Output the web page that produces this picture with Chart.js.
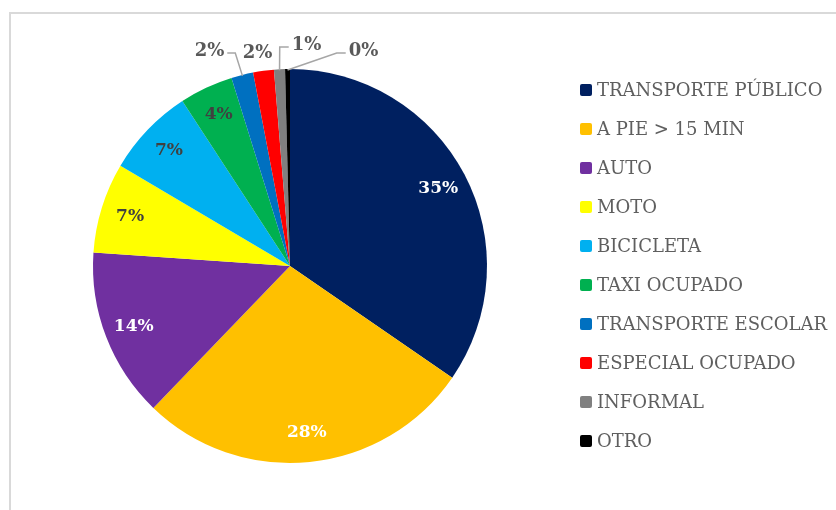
<!DOCTYPE html>
<html>
<head>
<meta charset="utf-8">
<script src="https://cdn.jsdelivr.net/npm/chart.js@4"></script>
<style>
  html, body { margin: 0; padding: 0; background: #fff; overflow: hidden; }
  #wrap { position: relative; width: 836px; height: 510px; }
  #frame { position: absolute; left: 9px; top: 12px; width: 900px; height: 600px;
           border: 2px solid #d9d9d9; box-sizing: border-box; }
  canvas { position: absolute; left: 0; top: 0; }
</style>
</head>
<body>
<div id="wrap">
  <div id="frame"></div>
  <canvas id="pie" width="836" height="510"></canvas>
</div>
<script>
/* ===== Modo de transporte ===== */

const categories = [
  'TRANSPORTE PÚBLICO', 'A PIE > 15 MIN', 'AUTO', 'MOTO', 'BICICLETA',
  'TAXI OCUPADO', 'TRANSPORTE ESCOLAR', 'ESPECIAL OCUPADO', 'INFORMAL', 'OTRO'
];
const shares = [34.6, 27.6, 13.9, 7.4, 7.3, 4.4, 1.8, 1.7, 0.9, 0.4];
const sliceColors = [
  '#002060', '#FFC000', '#7030A0', '#FFFF00', '#00B0F0',
  '#00B050', '#0070C0', '#FF0000', '#808080', '#000000'
];
// colour of the % text on each slice
const labelColors = [
  '#ffffff', '#ffffff', '#ffffff', '#404040', '#404040',
  '#404040', '#595959', '#595959', '#595959', '#595959'
];

const FONT = '"DejaVu Serif", "Liberation Serif", serif';

// small slices get their label outside, nudged sideways (dx from rim point, dy from pie top)
const outside = { 6: [-33, -18], 7: [-6, -16], 8: [27, -24], 9: [76, -18] };

const pctLabels = {
  id: 'pctLabels',
  afterDatasetsDraw(chart) {
    const ctx = chart.ctx;
    const meta = chart.getDatasetMeta(0);
    const total = shares.reduce((a, b) => a + b, 0);
    ctx.save();
    ctx.textAlign = 'center';
    ctx.textBaseline = 'middle';
    meta.data.forEach((arc, i) => {
      const { x, y, startAngle, endAngle, outerRadius } = arc.getProps(
        ['x', 'y', 'startAngle', 'endAngle', 'outerRadius'], true);
      const mid = (startAngle + endAngle) / 2;
      const txt = Math.round(shares[i] / total * 100) + '%';
      if (outside[i]) {
        ctx.font = 'bold 18px ' + FONT;
        const ax = x + Math.cos(mid) * (outerRadius - 1);
        const ay = y + Math.sin(mid) * (outerRadius - 1);
        const lx = ax + outside[i][0];
        const ly = y - outerRadius + outside[i][1];
        const w = ctx.measureText(txt).width;
        ctx.fillStyle = labelColors[i];
        ctx.fillText(txt, lx, ly);
        if (Math.abs(lx - ax) > w / 2 + 2) {
          const ex = lx > ax ? lx - w / 2 - 3 : lx + w / 2 + 3;
          const kx = lx > ax ? ex - 9 : ex + 8;
          ctx.strokeStyle = '#a6a6a6';
          ctx.lineWidth = 1.5;
          ctx.beginPath();
          ctx.moveTo(ex, ly + 2);
          ctx.lineTo(kx, ly + 2);
          ctx.lineTo(ax, ay);
          ctx.stroke();
        }
      } else {
        ctx.font = 'bold 17px ' + FONT;
        const r = outerRadius * 0.85;
        ctx.fillStyle = labelColors[i];
        ctx.fillText(txt, x + Math.cos(mid) * r, y + Math.sin(mid) * r);
      }
    });
    ctx.restore();
  }
};

const sideLegend = {
  id: 'sideLegend',
  afterDraw(chart) {
    const ctx = chart.ctx;
    ctx.save();
    ctx.font = '18px ' + FONT;
    ctx.textBaseline = 'middle';
    categories.forEach((name, i) => {
      const cy = 90 + i * 39;
      ctx.fillStyle = sliceColors[i];
      ctx.beginPath();
      ctx.roundRect(580, cy - 6, 12, 12, 2);
      ctx.fill();
      ctx.fillStyle = '#5f5f5f';
      ctx.fillText(name, 597, cy + 1);
    });
    ctx.restore();
  }
};

new Chart(document.getElementById('pie').getContext('2d'), {
  type: 'pie',
  data: {
    labels: categories,
    datasets: [{
      data: shares,
      backgroundColor: sliceColors,
      borderWidth: 0
    }]
  },
  options: {
    responsive: false,
    animation: false,
    layout: { padding: { left: 0, right: 256, top: 69, bottom: 47 } },
    plugins: {
      legend: { display: false },
      tooltip: { enabled: false }
    }
  },
  plugins: [pctLabels, sideLegend]
});
</script>
</body>
</html>
